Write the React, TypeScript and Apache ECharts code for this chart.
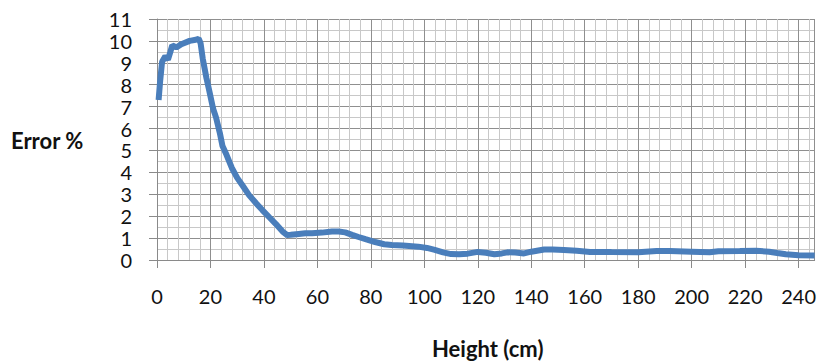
import React, { useEffect, useRef } from "react";
import * as echarts from "echarts";

const heightCm = [
  0.6, 1.2, 1.9, 3.1, 4.1, 5, 5.7, 7.2, 9.1, 12.2, 14.5, 15.6, 16.3, 17.1, 18.5, 19.6, 21, 22.1, 23.5,
  24.5, 26, 28, 30, 32, 34.5, 37, 39.4, 42, 44.4, 47, 48.7, 50, 53, 55.5, 58, 61.7, 65.4, 68, 70.4,
  73, 75.4, 78, 81.6, 85, 87.8, 92, 97.7, 101, 103.9, 107, 110, 113, 116.2, 120, 123, 126.2, 129,
  131.1, 134, 137.3, 140, 144.8, 148, 152.2, 157, 162, 170, 180, 186.9, 191.8, 200, 206.7, 210, 218,
  224, 229, 232, 235.2, 240, 246,
];
const errorPct = [
  7.3, 8.2, 9.05, 9.3, 9.15, 9.5, 9.8, 9.7, 9.85, 10.0, 10.05, 10.1, 9.9, 9.2, 8.3, 7.7, 6.9, 6.5, 5.8,
  5.2, 4.8, 4.2, 3.75, 3.4, 2.95, 2.6, 2.28, 1.95, 1.65, 1.3, 1.14, 1.15, 1.19, 1.22, 1.22, 1.25, 1.3,
  1.3, 1.26, 1.15, 1.05, 0.95, 0.82, 0.72, 0.68, 0.66, 0.61, 0.55, 0.46, 0.35, 0.27, 0.26, 0.29, 0.37,
  0.33, 0.26, 0.3, 0.35, 0.34, 0.3, 0.38, 0.48, 0.48, 0.46, 0.42, 0.37, 0.36, 0.35, 0.41, 0.41, 0.38,
  0.35, 0.4, 0.41, 0.42, 0.38, 0.32, 0.26, 0.22, 0.2,
];
const xTitle = "Height (cm)";
const yTitle = "Error %";

export default function App() {
  const ref = useRef<HTMLDivElement>(null);
  useEffect(() => {
    const chart = echarts.init(ref.current!, null, { renderer: "svg" });
    const font = "Lato, 'Open Sans', sans-serif";
    chart.setOption({
      animation: false,
      backgroundColor: "#ffffff",
      grid: { left: 157, right: 0, top: 19, bottom: 103, containLabel: false },
      xAxis: {
        type: "value",
        min: 0,
        max: 246,
        interval: 20,
        axisLine: { show: true, lineStyle: { color: "#8a8a8a", width: 1 } },
        axisTick: { show: true, length: 8, lineStyle: { color: "#8a8a8a" } },
        axisLabel: {
          margin: 26,
          color: "#111",
          fontSize: 20,
          fontFamily: font,
          showMaxLabel: false,
          formatter: (v: number) => (v % 20 === 0 && v <= 240 ? String(v) : ""),
        },
        splitLine: { show: true, lineStyle: { color: "#8f8f8f", width: 1 } },
        minorTick: { show: false, splitNumber: 5 },
        minorSplitLine: { show: true, lineStyle: { color: "#c8c8c8", width: 1 } },
      },
      yAxis: {
        type: "value",
        min: 0,
        max: 11,
        interval: 1,
        axisLine: { show: true, lineStyle: { color: "#8a8a8a", width: 1 } },
        axisTick: { show: true, length: 8, lineStyle: { color: "#8a8a8a" } },
        axisLabel: { margin: 25, color: "#111", fontSize: 20, fontFamily: font },
        splitLine: { show: true, lineStyle: { color: "#8f8f8f", width: 1 } },
        minorTick: { show: false, splitNumber: 2 },
        minorSplitLine: { show: true, lineStyle: { color: "#c8c8c8", width: 1 } },
      },
      graphic: [
        {
          type: "text",
          left: 11,
          top: 129,
          style: { text: yTitle, font: `bold 22px ${font}`, fill: "#111" },
        },
        {
          type: "text",
          left: 432,
          top: 337,
          style: { text: xTitle, font: `bold 22px ${font}`, fill: "#111" },
        },
      ],
      series: [
        {
          type: "line",
          data: heightCm.map((h, i) => [h, errorPct[i]]),
          showSymbol: false,
          lineStyle: { color: "#4a7ebb", width: 6 },
          itemStyle: { color: "#4a7ebb" },
        },
      ],
    });
    return () => chart.dispose();
  }, []);
  return <div ref={ref} style={{ width: 819, height: 363, position: "absolute", left: 0, top: 0 }} />;
}
